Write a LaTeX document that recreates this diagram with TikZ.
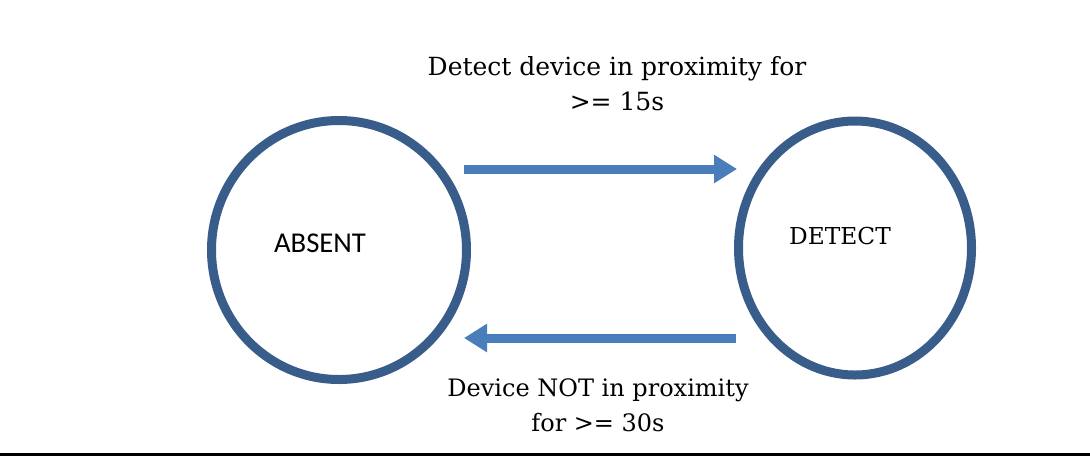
\documentclass[tikz,border=0pt]{standalone}
\usepackage{fontspec}
\usepackage{tikz}
\usetikzlibrary{arrows.meta}
\usetikzlibrary{shapes.geometric,positioning}
\newfontfamily\statefont{Carlito}
\newfontfamily\labelfont{DejaVu Serif}
\definecolor{ringblue}{RGB}{56,93,138}
\definecolor{arrowblue}{RGB}{74,126,187}
\tikzset{
    % 状态圆
    statering/.style={
        ellipse,
        draw=ringblue,
        line width=9pt,
        fill=white,
        inner sep=0pt
    },
    % 蓝色箭头
    movearrow/.style={
        line width=9pt,
        arrowblue,
        -{Triangle[length=23pt, width=27pt]}
    },
    statename/.style={inner sep=0pt, black},
    edgetext/.style={inner sep=0pt, align=center, black}
}

\begin{document}
\begin{tikzpicture}[x=1pt,y=-1pt]
	\useasboundingbox (0,0) rectangle (1090,456);
	
	% 两个状态
	\node[statering, minimum width=255pt, minimum height=259pt] (absent) at (339,250) {};
	\node[statering, minimum width=233pt, minimum height=254pt] (detect) at (855,248) {};
	
	\node[statename, font=\statefont\fontsize{28.7}{34}\selectfont] (absentname) at (320,243) {ABSENT};
	\node[statename, font=\labelfont\fontsize{23.3}{30}\selectfont] (detectname) at (840,236) {DETECT};
	
	\path 
	(464,169) coordinate (absentout)
	(737,169) coordinate (detectin)
	(736,338) coordinate (detectout)
	(464,338) coordinate (absentin);
	
	% 箭头
	\draw[movearrow] (absentout) to (detectin);
	\draw[movearrow] (detectout) to (absentin);
	
	% 文字标注
	\node[edgetext, font=\labelfont\fontsize{25}{35}\selectfont] (uplabel) at (617,83.5) {Detect device in proximity for\\>= 15s};
	\node[edgetext, font=\labelfont\fontsize{24}{35}\selectfont] (downlabel) at (598,405.5) {Device NOT in proximity\\for >= 30s};
	
	% 底线
	\path (0,454.7) coordinate (rulea) (1090,454.7) coordinate (ruleb);
	\draw[line width=2.7pt, black] (rulea) -- (ruleb);
\end{tikzpicture}
\end{document}
